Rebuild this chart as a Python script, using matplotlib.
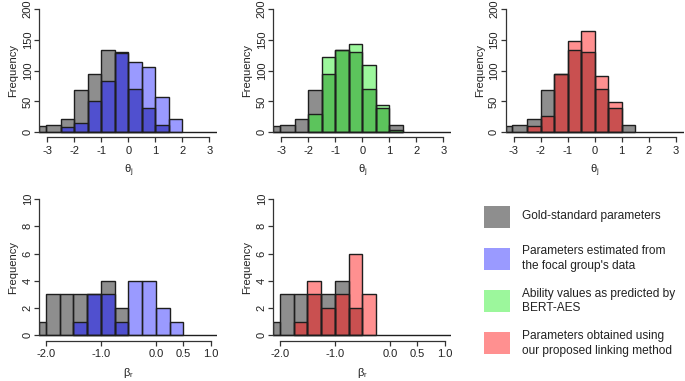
import numpy as np
import matplotlib
matplotlib.use("Agg")
import matplotlib.pyplot as plt
from matplotlib.patches import Rectangle

plt.rcParams['font.family'] = ['Liberation Sans', 'DejaVu Sans']
plt.rcParams['mathtext.fontset'] = 'custom'
plt.rcParams['mathtext.rm'] = 'Liberation Sans'

# --- data ---
# ability (theta) histograms
theta_gold_edges = [-3.3, -3.05, -2.5, -2.0, -1.5, -1.0, -0.5, 0.0, 0.5, 1.0, 1.5]
theta_gold_counts = [10, 12, 22, 68, 94, 133, 130, 70, 40, 12]

theta_focal_edges = [-2.5, -2.0, -1.5, -1.0, -0.5, 0.0, 0.5, 1.0, 1.5, 2.0]
theta_focal_counts = [9, 15, 51, 83, 128, 114, 106, 57, 22]

theta_bert_edges = [-2.0, -1.5, -1.0, -0.5, 0.0, 0.5, 1.0, 1.5]
theta_bert_counts = [29, 123, 133, 143, 110, 45, 3]

theta_link_edges = [-2.5, -2.0, -1.5, -1.0, -0.5, 0.0, 0.5, 1.0]
theta_link_counts = [10, 27, 95, 149, 164, 92, 49]

# item difficulty (beta) histograms
beta_gold_edges = [-2.12, -2.0, -1.75, -1.5, -1.25, -1.0, -0.75, -0.5]
beta_gold_counts = [1, 3, 3, 3, 3, 4, 2]

beta_focal_edges = [-1.5, -1.25, -1.0, -0.75, -0.5, -0.25, 0.0, 0.25, 0.5]
beta_focal_counts = [1, 3, 3, 1, 4, 4, 2, 1]

beta_link_edges = [-1.75, -1.5, -1.25, -1.0, -0.75, -0.5, -0.25]
beta_link_counts = [1, 4, 2, 3, 6, 3]

theta_ticks = [-3, -2, -1, 0, 1, 2, 3]
theta_yticks = [0, 50, 100, 150, 200]
beta_ticks = [-2.0, -1.0, 0.0, 0.5, 1.0]
beta_ticklabels = ["-2.0", "-1.0", "0.0", "0.5", "1.0"]
beta_yticks = [0, 2, 4, 6, 8, 10]

legend_labels = ["Gold-standard parameters",
                 "Parameters estimated from\nthe focal group's data",
                 "Ability values as predicted by\nBERT-AES",
                 "Parameters obtained using\nour proposed linking method"]

GRAY = "#8e8e8e"
BLUE_L, BLUE_D = "#9a9aff", "#5050cf"
GREEN_L, GREEN_D = "#9cf79c", "#5cc45c"
RED_L, RED_D = "#ff9090", "#c95050"
EDGE = "#1e1e1e"
FS = 8


def draw_hist(ax, g_edges, g_counts, c_edges, c_counts, light, dark, xlim):
    g_edges = np.array(g_edges)
    c_edges = np.array(c_edges)
    g_counts = np.array(g_counts)
    c_counts = np.array(c_counts)
    g_w = np.diff(g_edges)
    c_w = np.diff(c_edges)
    # gray where the gold histogram sits
    ax.bar(g_edges[:-1], g_counts, width=g_w, align='edge', color=GRAY, lw=0)
    ax.bar(c_edges[:-1], c_counts, width=c_w, align='edge', color=light, lw=0)
    # overlap of both histograms
    overlap = []
    for left, cnt in zip(c_edges[:-1], c_counts):
        match = np.isclose(g_edges[:-1], left)
        overlap.append(min(cnt, g_counts[match][0]) if match.any() else 0)
    ax.bar(c_edges[:-1], overlap, width=c_w, align='edge', color=dark, lw=0)
    # outlines
    ax.bar(g_edges[:-1], g_counts, width=g_w, align='edge', fill=False,
           edgecolor=EDGE, lw=1.0)
    ax.bar(c_edges[:-1], c_counts, width=c_w, align='edge', fill=False,
           edgecolor=EDGE, lw=1.0)
    ax.plot(xlim, [0, 0], color=EDGE, lw=1.0, solid_capstyle='butt')


def style_axes(ax, xlim, ylim, xticks, xticklabels, yticks, xlabel):
    ax.set_xlim(xlim)
    pad = (ylim[1] - ylim[0]) * 0.04
    ax.set_ylim(ylim[0] - pad, ylim[1] + pad)
    for s in ['top', 'right']:
        ax.spines[s].set_visible(False)
    ax.spines['left'].set_bounds(ylim[0], ylim[1])
    ax.spines['bottom'].set_bounds(xticks[0], xticks[-1])
    for s in ['left', 'bottom']:
        ax.spines[s].set_linewidth(0.9)
        ax.spines[s].set_color('#333333')
    ax.set_xticks(xticks)
    ax.set_xticklabels(xticklabels)
    ax.set_yticks(yticks)
    ax.tick_params(axis='both', direction='out', length=3.6, width=0.9,
                   color='#333333', labelsize=FS, labelcolor='#222222')
    ax.tick_params(axis='x', pad=2.5)
    ax.tick_params(axis='y', pad=1.2)
    for lab in ax.get_yticklabels():
        lab.set_rotation(90)
        lab.set_va('center')
    ax.set_ylabel("Frequency", fontsize=FS, color='#222222', labelpad=3)
    ax.set_xlabel(xlabel, fontsize=FS, color='#222222', labelpad=5)


fig = plt.figure(figsize=(6.85, 3.81), dpi=100)

top_b, top_h = 0.640, 0.349
bot_b, bot_h = 0.1055, 0.3866
lefts = [0.0575, 0.399, 0.7382]
width = 0.2599

theta_lim = (-3.3, 3.3)
beta_lim = (-2.12, 1.12)
theta_lab = r"θ$_{\mathrm{j}}$"
beta_lab = r"β$_{\mathrm{r}}$"

panels = [
    (theta_focal_edges, theta_focal_counts, BLUE_L, BLUE_D),
    (theta_bert_edges, theta_bert_counts, GREEN_L, GREEN_D),
    (theta_link_edges, theta_link_counts, RED_L, RED_D),
]
for left, (ce, cc, lc, dc) in zip(lefts, panels):
    ax = fig.add_axes([left, top_b, width, top_h])
    draw_hist(ax, theta_gold_edges, theta_gold_counts, ce, cc, lc, dc, theta_lim)
    style_axes(ax, theta_lim, (0, 200), theta_ticks,
               [str(t) for t in theta_ticks], theta_yticks, theta_lab)

beta_panels = [
    (beta_focal_edges, beta_focal_counts, BLUE_L, BLUE_D),
    (beta_link_edges, beta_link_counts, RED_L, RED_D),
]
for left, (ce, cc, lc, dc) in zip(lefts[:2], beta_panels):
    ax = fig.add_axes([left, bot_b, width, bot_h])
    draw_hist(ax, beta_gold_edges, beta_gold_counts, ce, cc, lc, dc, beta_lim)
    style_axes(ax, beta_lim, (0, 10), beta_ticks, beta_ticklabels,
               beta_yticks, beta_lab)

# legend panel, drawn by hand so the rows are evenly spaced
lax = fig.add_axes([0.0, 0.0, 1.0, 1.0])
lax.set_xlim(0, 685)
lax.set_ylim(381, 0)
lax.axis('off')
sw_colors = [GRAY, BLUE_L, GREEN_L, RED_L]
for i, (col, lab) in enumerate(zip(sw_colors, legend_labels)):
    yc = 216.5 + i * 42.3
    lax.add_patch(Rectangle((484.5, yc - 11), 25.5, 22, facecolor=col,
                            edgecolor='none'))
    lax.text(522.5, yc, lab, fontsize=8.6, va='center', ha='left',
             color='#222222', linespacing=1.3)

fig.savefig("out.png", dpi=100)
